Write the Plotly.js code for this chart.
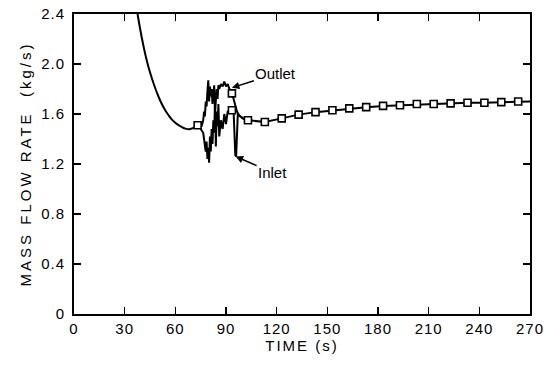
<!DOCTYPE html>
<html>
<head>
<meta charset="utf-8">
<script src="https://cdn.plot.ly/plotly-3.0.1.min.js"></script>
<style>
html,body{margin:0;padding:0;background:#fff;}
#chart{width:557px;height:365px;}
.xtitle{letter-spacing:2px;}
.ytitle{letter-spacing:3px;}
.xtick text,.ytick text{letter-spacing:1px;}
</style>
</head>
<body>
<div id="chart"></div>
<script>
// ---- data ----
// decay part of the curve (before the oscillation)
const decayTime = [37, 38, 40, 42, 44, 46, 48, 50, 52, 54, 56, 58, 60, 62, 64, 66, 68, 70, 73.2];
const decayFlow = [2.46, 2.37, 2.22, 2.09, 1.98, 1.89, 1.81, 1.74, 1.68, 1.63, 1.59, 1.555, 1.53, 1.51, 1.495, 1.483, 1.478, 1.485, 1.51];

// oscillation region, outlet
const outletTime = [73.2, 74.5, 75.5, 76.5, 77, 77.5, 78, 78.5, 79, 79.5, 80, 80.5, 81, 81.5, 82, 82.5, 83, 83.5, 84, 84.5, 85, 85.5, 86, 87, 88, 89, 90, 91, 92, 93.5, 94.5, 95.5, 96.5, 98, 100, 103];
const outletFlow = [1.51, 1.52, 1.50, 1.55, 1.62, 1.58, 1.70, 1.66, 1.78, 1.87, 1.70, 1.82, 1.74, 1.80, 1.68, 1.79, 1.83, 1.62, 1.78, 1.80, 1.72, 1.83, 1.80, 1.84, 1.82, 1.86, 1.82, 1.84, 1.80, 1.765, 1.72, 1.66, 1.62, 1.585, 1.565, 1.55];

// oscillation region, inlet
const inletTime = [73.2, 74.5, 75.5, 76.5, 77, 77.5, 78, 78.5, 79, 79.5, 80, 80.5, 81, 81.5, 82, 82.5, 83, 83.5, 84, 84.5, 85, 85.5, 86, 87, 88, 89, 90, 91, 92.5, 93.5, 94.5, 95, 95.5, 96, 96.5, 97, 98, 100, 103];
const inletFlow = [1.51, 1.50, 1.47, 1.45, 1.40, 1.36, 1.30, 1.38, 1.24, 1.33, 1.21, 1.42, 1.30, 1.48, 1.36, 1.55, 1.45, 1.70, 1.34, 1.62, 1.50, 1.68, 1.42, 1.55, 1.48, 1.60, 1.52, 1.62, 1.63, 1.63, 1.62, 1.45, 1.27, 1.26, 1.45, 1.60, 1.585, 1.565, 1.55];

// recovery part (after the oscillation)
const recoveryTime = [103, 113, 123, 133, 143, 153, 163, 173, 183, 193, 203, 213, 223, 233, 243, 253, 263, 270];
const recoveryFlow = [1.55, 1.536, 1.565, 1.595, 1.615, 1.63, 1.645, 1.655, 1.665, 1.67, 1.68, 1.68, 1.685, 1.69, 1.69, 1.695, 1.70, 1.70];

// square symbols
const markerTime = [73.2, 93.5, 93.5, 103, 113, 123, 133, 143, 153, 163, 173, 183, 193, 203, 213, 223, 233, 243, 253, 263];
const markerFlow = [1.51, 1.765, 1.63, 1.55, 1.536, 1.565, 1.595, 1.615, 1.63, 1.645, 1.655, 1.665, 1.67, 1.68, 1.68, 1.685, 1.69, 1.69, 1.695, 1.70];

// ticks
const xTickVals = [0, 30, 60, 90, 120, 150, 180, 210, 240, 270];
const yTickVals = [0, 0.4, 0.8, 1.2, 1.6, 2.0, 2.4];
const yTickText = ['0', '0.4', '0.8', '1.2', '1.6', '2.0', '2.4'];

const lineStyle = {color: '#000', width: 2};
const traces = [
  {x: decayTime, y: decayFlow, mode: 'lines', line: {color: '#000', width: 2, shape: 'spline', smoothing: 1}, hoverinfo: 'skip'},
  {x: inletTime, y: inletFlow, mode: 'lines', line: lineStyle, hoverinfo: 'skip'},
  {x: outletTime, y: outletFlow, mode: 'lines', line: lineStyle, hoverinfo: 'skip'},
  {x: recoveryTime, y: recoveryFlow, mode: 'lines', line: lineStyle, hoverinfo: 'skip'},
  {x: markerTime, y: markerFlow, mode: 'markers', hoverinfo: 'skip',
   marker: {symbol: 'square', size: 7, color: '#fff', line: {color: '#000', width: 1.6}}}
];

const font = {family: 'Liberation Sans, Arial, sans-serif', size: 14, color: '#000'};
const layout = {
  width: 557, height: 365,
  margin: {l: 74, r: 27, t: 14, b: 51},
  paper_bgcolor: '#fff', plot_bgcolor: '#fff',
  showlegend: false,
  font: font,
  xaxis: {
    range: [0, 270], tickvals: xTickVals, ticks: 'inside', ticklen: 7, tickwidth: 1.5, tickcolor: '#000',
    showline: true, linecolor: '#000', linewidth: 2, mirror: 'ticks', showgrid: false, zeroline: false,
    tickfont: {family: font.family, size: 15, color: '#000'},
    title: {text: 'TIME (s)', font: {family: font.family, size: 15, color: '#000'}, standoff: 4}
  },
  yaxis: {
    range: [0, 2.4], tickvals: yTickVals, ticktext: yTickText, ticks: 'inside', ticklen: 7, tickwidth: 1.5, tickcolor: '#000',
    showline: true, linecolor: '#000', linewidth: 2, mirror: 'ticks', showgrid: false, zeroline: false,
    tickfont: {family: font.family, size: 15, color: '#000'}, ticklabelstandoff: 4,
    title: {text: 'MASS FLOW RATE  (kg/s)', font: {family: font.family, size: 15, color: '#000'}, standoff: 6}
  },
  annotations: [
    {x: 93.5, y: 1.81, xref: 'x', yref: 'y', text: 'Outlet', showarrow: true, arrowhead: 2, arrowsize: 1, arrowwidth: 1.5,
     arrowcolor: '#000', ax: 44, ay: -14, font: {family: font.family, size: 15, color: '#000'}},
    {x: 95.7, y: 1.26, xref: 'x', yref: 'y', text: 'Inlet', showarrow: true, arrowhead: 2, arrowsize: 1, arrowwidth: 1.5,
     arrowcolor: '#000', ax: 37, ay: 16, font: {family: font.family, size: 15, color: '#000'}}
  ]
};

Plotly.newPlot('chart', traces, layout, {staticPlot: true, displayModeBar: false});
</script>
</body>
</html>
